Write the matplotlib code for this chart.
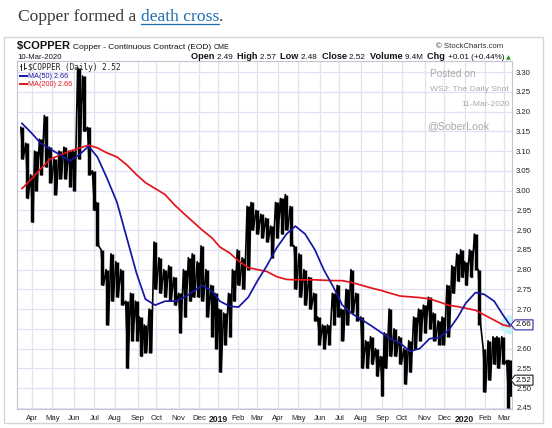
import numpy as np
import pandas as pd
import matplotlib
matplotlib.use('Agg')
import matplotlib.pyplot as plt
import matplotlib.transforms as mtransforms
from matplotlib.patches import Polygon, Rectangle

# ---------------- data ----------------
week_dates = pd.date_range('2018-03-16', periods=104, freq='W-FRI').strftime('%Y-%m-%d').tolist() + ['2020-03-10']

week_high = [3.16, 3.12, 3.04, 3.10, 3.13, 3.19, 3.11, 3.08, 3.10, 3.11,
             3.10, 3.10, 3.31, 3.29, 3.16, 3.05, 2.97, 2.85, 2.80, 2.84,
             2.82, 2.80, 2.72, 2.74, 2.72, 2.68, 2.66, 2.70, 2.87, 2.83,
             2.80, 2.81, 2.78, 2.74, 2.80, 2.83, 2.84, 2.82, 2.86, 2.80,
             2.76, 2.74, 2.70, 2.69, 2.74, 2.80, 2.85, 2.83, 2.96, 2.97,
             2.95, 2.94, 2.93, 2.91, 2.97, 2.98, 2.99, 2.96, 2.86, 2.84,
             2.80, 2.78, 2.74, 2.68, 2.66, 2.66, 2.74, 2.76, 2.70, 2.75,
             2.80, 2.74, 2.68, 2.62, 2.63, 2.60, 2.58, 2.64, 2.70, 2.65,
             2.63, 2.60, 2.62, 2.68, 2.70, 2.71, 2.73, 2.69, 2.67, 2.68,
             2.76, 2.81, 2.84, 2.85, 2.82, 2.85, 2.89, 2.80, 2.60, 2.62,
             2.63, 2.63, 2.63, 2.57, 2.57]
week_low = [3.08, 2.98, 2.92, 3.00, 3.04, 3.06, 3.02, 2.99, 3.03, 3.03,
            3.01, 3.00, 3.08, 3.15, 3.04, 2.95, 2.86, 2.76, 2.66, 2.72,
            2.73, 2.71, 2.55, 2.62, 2.62, 2.58, 2.59, 2.59, 2.75, 2.74,
            2.73, 2.72, 2.71, 2.64, 2.68, 2.72, 2.73, 2.73, 2.72, 2.68,
            2.63, 2.60, 2.54, 2.61, 2.63, 2.72, 2.76, 2.75, 2.80, 2.90,
            2.89, 2.88, 2.87, 2.83, 2.88, 2.89, 2.90, 2.86, 2.75, 2.73,
            2.71, 2.70, 2.67, 2.61, 2.60, 2.61, 2.66, 2.68, 2.62, 2.66,
            2.69, 2.67, 2.55, 2.55, 2.56, 2.53, 2.48, 2.55, 2.58, 2.58,
            2.56, 2.51, 2.54, 2.60, 2.62, 2.64, 2.65, 2.62, 2.61, 2.61,
            2.63, 2.74, 2.77, 2.78, 2.76, 2.78, 2.80, 2.66, 2.49, 2.52,
            2.56, 2.55, 2.56, 2.45, 2.48]
last_close = 2.52

ma_dates = week_dates[::2]
ma50 = [3.17, 3.145, 3.12, 3.105, 3.09, 3.075, 3.09, 3.112, 3.085, 3.03,
        2.97, 2.88, 2.79, 2.725, 2.71, 2.72, 2.72, 2.73, 2.745, 2.76,
        2.745, 2.72, 2.707, 2.705, 2.73, 2.77, 2.81, 2.855, 2.89, 2.91,
        2.89, 2.85, 2.80, 2.755, 2.71, 2.688, 2.673, 2.657, 2.64, 2.625,
        2.614, 2.593, 2.60, 2.625, 2.628, 2.645, 2.68, 2.715, 2.742, 2.737,
        2.72, 2.685, 2.66]
ma200 = [3.005, 3.03, 3.055, 3.08, 3.09, 3.10, 3.107, 3.115, 3.108, 3.095,
         3.085, 3.065, 3.04, 3.02, 3.005, 2.99, 2.963, 2.94, 2.92, 2.90,
         2.88, 2.857, 2.842, 2.822, 2.805, 2.80, 2.795, 2.782, 2.775, 2.774,
         2.774, 2.774, 2.773, 2.772, 2.772, 2.767, 2.76, 2.753, 2.747, 2.74,
         2.733, 2.731, 2.729, 2.726, 2.718, 2.71, 2.706, 2.702, 2.697, 2.685,
         2.672, 2.66, 2.656]
ma50_last = '2.66'
ma200_last = '2.66'

header_fields = [('Open', '2.49'), ('High', '2.57'), ('Low', '2.48'),
                 ('Close', '2.52'), ('Volume', '9.4M'), ('Chg', '+0.01 (+0.44%)')]
month_starts = pd.date_range('2018-04-01', '2020-03-01', freq='MS')
y_ticks = [2.45, 2.50, 2.55, 2.60, 2.65, 2.70, 2.75, 2.80, 2.85, 2.90,
           2.95, 3.00, 3.05, 3.10, 3.15, 3.20, 3.25, 3.30]

HOLIDAYS = ['2018-03-30', '2018-05-28', '2018-07-04', '2018-09-03', '2018-11-22',
            '2018-12-05', '2018-12-25', '2019-01-01', '2019-01-21', '2019-02-18',
            '2019-04-19', '2019-05-27', '2019-07-04', '2019-09-02', '2019-11-28',
            '2019-12-25', '2020-01-01', '2020-01-20', '2020-02-17']
ORIGIN = '2018-03-12'


def tday(d):
    d = np.datetime64(pd.Timestamp(d).date(), 'D')
    d = np.busday_offset(d, 0, roll='forward', holidays=HOLIDAYS)
    return float(np.busday_count(ORIGIN, d, holidays=HOLIDAYS))


# ---------------- figure ----------------
W, H = 552, 428
fig = plt.figure(figsize=(W / 100, H / 100), dpi=100)
fig.patch.set_facecolor('white')
SANS = ['Liberation Sans', 'DejaVu Sans']
PIX = mtransforms.IdentityTransform()
renderer = fig.canvas.get_renderer()


def Y(y):
    return H - y


def runs(x, y, parts, ha='left'):
    objs = []
    for s, kw in parts:
        objs.append(fig.text(0, Y(y), s, transform=PIX, va='baseline', ha='left', **kw))
    widths = [o.get_window_extent(renderer).width for o in objs]
    total = sum(widths)
    cx = x - total if ha == 'right' else x
    for o, w in zip(objs, widths):
        o.set_position((cx, Y(y)))
        cx += w
    return objs


# title line
TF = dict(family=['Liberation Serif', 'DejaVu Serif'], size=12.6)
tparts = runs(18, 21, [('Copper formed a ', dict(color='#3a3a3a', **TF)),
                       ('death cross', dict(color='#1f6db3', **TF)),
                       ('.', dict(color='#3a3a3a', **TF))])
bb = tparts[1].get_window_extent(renderer)
fig.add_artist(plt.Line2D([bb.x0, bb.x1], [Y(23.5), Y(23.5)], transform=PIX, color='#1f6db3', lw=0.9))

# outer chart border
fig.add_artist(Rectangle((4, Y(423)), 539, 386, transform=PIX, fill=False, ec='#d4d4d4', lw=1))

# chart header
runs(17, 49, [('$COPPER ', dict(family=SANS, size=8, weight='bold', color='#111')),
              ('Copper - Continuous Contract (EOD) ', dict(family=SANS, size=6, color='#111')),
              ('CME', dict(family=SANS, size=5, color='#111'))])
runs(17, 59, [('10-Mar-2020', dict(family=SANS, size=5.6, color='#111'))])
runs(503, 48, [('\u00a9 StockCharts.com', dict(family=SANS, size=5.6, color='#333'))], ha='right')
hp = []
for i, (k, v) in enumerate(header_fields):
    hp.append((k + ' ', dict(family=SANS, size=6.6, weight='bold', color='#111')))
    hp.append((v + ('  ' if i < len(header_fields) - 1 else ' '), dict(family=SANS, size=5.9, color='#111')))
hp.append(('\u25b2', dict(family='DejaVu Sans', size=4.5, color='#1a9a1a')))
runs(511, 59, hp, ha='right')

# ---------------- axes ----------------
ax = fig.add_axes([17 / W, 1 - 409 / H, (512 - 17) / W, (409 - 61) / H])
ax.set_facecolor('white')

t_week = np.array([tday(d) for d in week_dates])
t_ma = np.array([tday(d) for d in ma_dates])
x0 = tday(week_dates[0]) - 5.1
x1 = tday(week_dates[-1]) + 2.2
ax.set_xlim(x0, x1)
ax.set_ylim(2.447, 3.328)

# grid
mt = [tday(d) for d in month_starts]
for t in mt:
    ax.axvline(t, color='#e1e1f3', lw=0.9, zorder=0)
for yv in y_ticks:
    ax.axhline(yv, color='#e1e1f3', lw=0.9, zorder=0)

# price bars: weekly high/low ranges as heavy bars joined by a zigzag trace
hi = np.array(week_high)
lo = np.array(week_low)
ax.vlines(t_week, lo, hi, color='black', lw=2.5, zorder=3)
zx, zy = [], []
for t, h, l in zip(t_week, hi, lo):
    zx += [t - 1.2, t + 1.2]
    zy += [h, l]
ax.plot(zx, zy, color='black', lw=1.2, zorder=3)

# glow at the moving-average end
ax.scatter([t_ma[-1]], [ma50[-1]], s=190, color='#c6f1f9', edgecolors='none', zorder=2)

ax.plot(t_ma, ma200, color='#e3141b', lw=1.25, zorder=4)
ax.plot(t_ma, ma50, color='#1515a3', lw=1.25, zorder=5)

# axes styling
for s in ax.spines.values():
    s.set_color('#c4c4d4')
    s.set_linewidth(0.8)
ax.yaxis.tick_right()
ax.set_yticks(y_ticks)
ylabels = ['' if abs(v - float(ma50_last)) < 0.02 else '%.2f' % v for v in y_ticks]
ax.set_yticklabels(ylabels, family=SANS, fontsize=5.6, color='#222')
ax.tick_params(axis='y', length=0, pad=3)
ax.set_xticks(mt)
labels = [d.strftime('%Y') if d.month == 1 else d.strftime('%b') for d in month_starts]
ax.set_xticklabels(labels, family=SANS, fontsize=5.6, color='#222')
for lab, d in zip(ax.get_xticklabels(), month_starts):
    if d.month == 1:
        lab.set_fontweight('bold')
        lab.set_fontsize(6.2)
ax.tick_params(axis='x', length=0, pad=4)

# legend in plot (figure pixel coordinates)
fig.add_artist(plt.Line2D([21, 21], [Y(64), Y(70)], transform=PIX, color='#222', lw=0.7))
fig.add_artist(plt.Line2D([19.5, 21], [Y(65.5), Y(65.5)], transform=PIX, color='#222', lw=0.7))
fig.add_artist(plt.Line2D([24, 24], [Y(63), Y(69)], transform=PIX, color='#222', lw=0.7))
fig.add_artist(plt.Line2D([24, 25.5], [Y(68), Y(68)], transform=PIX, color='#222', lw=0.7))
runs(28, 70, [('$COPPER (Daily) %.2f' % last_close, dict(family='DejaVu Sans Mono', size=5.6, color='#222'))])
fig.add_artist(plt.Line2D([20, 27], [Y(75.5), Y(75.5)], transform=PIX, color='#1515a3', lw=1.4))
runs(27.5, 78, [('MA(50) ' + ma50_last, dict(family=SANS, size=5.2, color='#1515a3'))])
fig.add_artist(plt.Line2D([20, 27], [Y(83.5), Y(83.5)], transform=PIX, color='#e3141b', lw=1.4))
runs(27.5, 86, [('MA(200) ' + ma200_last, dict(family=SANS, size=5.2, color='#e3141b'))])

# watermark
wm = '#a9a9a9'
runs(430, 77, [('Posted on', dict(family=SANS, size=7.3, color=wm))])
runs(430, 91, [('WSJ: The Daily Shot', dict(family=SANS, size=6.1, color=wm))])
runs(510, 106, [('11-Mar-2020', dict(family=SANS, size=6.1, color=wm))], ha='right')
runs(427, 129, [('@SoberLook', dict(family=SANS, size=7.6, color=wm))])

# right-axis value boxes
bt = mtransforms.blended_transform_factory(ax.transAxes, ax.transData)
axw = 512 - 17


def vbox(val, ec, txt):
    hh = 5.0 / 395.0
    xa = 1 + (-1) / axw
    xb = 1 + 3 / axw
    xc = 1 + 21 / axw
    poly = Polygon([(xa, val), (xb, val + hh), (xc, val + hh), (xc, val - hh), (xb, val - hh)],
                   closed=True, transform=bt, fc='white', ec=ec, lw=0.8, clip_on=False, zorder=10)
    ax.add_patch(poly)
    ax.text(1 + 3.5 / axw, val, txt, transform=bt, ha='left', va='center', family=SANS,
            fontsize=5.8, color='#111', clip_on=False, zorder=11)


vbox(float(ma50_last), '#2a2aa8', ma50_last)
vbox(last_close, '#222222', '%.2f' % last_close)

fig.savefig('out.png', dpi=100, facecolor='white')
